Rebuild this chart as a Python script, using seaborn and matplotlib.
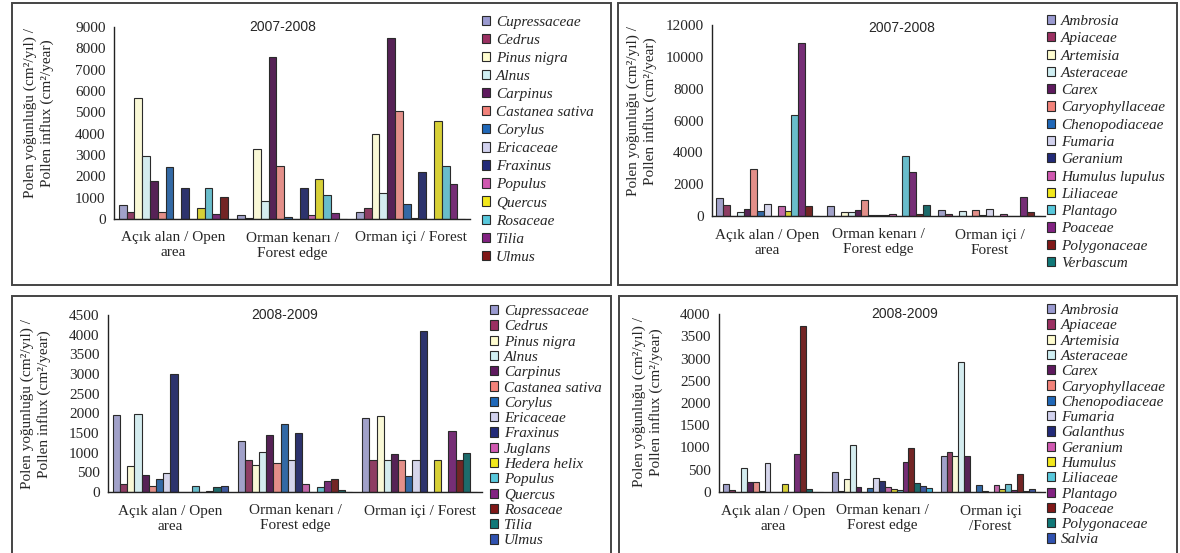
import numpy as np
import pandas as pd
import matplotlib
matplotlib.use("Agg")
import matplotlib.pyplot as plt
from matplotlib.patches import Patch, Rectangle
import seaborn as sns

# site labels (x categories)
sites_tl = ["Açık alan / Open\narea", "Orman kenarı /\nForest edge", "Orman içi / Forest"]
sites_tr = ["Açık alan / Open\narea", "Orman kenarı /\nForest edge", "Orman içi /\nForest"]
sites_bl = ["Açık alan / Open\narea", "Orman kenarı /\nForest edge", "Orman içi / Forest"]
sites_br = ["Açık alan / Open\narea", "Orman kenarı /\nForest edge", "Orman içi\n/Forest"]

# 2007-2008 trees
trees_0708 = ["Cupressaceae", "Cedrus", "Pinus nigra", "Alnus", "Carpinus", "Castanea sativa",
              "Corylus", "Ericaceae", "Fraxinus", "Populus", "Quercus", "Rosaceae", "Tilia", "Ulmus"]
trees_0708_open = [650, 350, 5680, 2930, 1770, 350, 2430, 0, 1450, 0, 520, 1450, 220, 1030]
trees_0708_edge = [170, 50, 3290, 850, 7590, 2490, 100, 0, 1450, 190, 1870, 1130, 270, 0]
trees_0708_forest = [350, 520, 3970, 1220, 8480, 5070, 720, 40, 2180, 0, 4580, 2490, 1630, 0]

# 2007-2008 herbs
herbs_0708 = ["Ambrosia", "Apiaceae", "Artemisia", "Asteraceae", "Carex", "Caryophyllaceae",
              "Chenopodiaceae", "Fumaria", "Geranium", "Humulus lupulus", "Liliaceae", "Plantago",
              "Poaceae", "Polygonaceae", "Verbascum"]
herbs_0708_open = [1130, 720, 0, 240, 460, 2950, 310, 760, 0, 600, 290, 6320, 10900, 600, 0]
herbs_0708_edge = [600, 0, 230, 230, 360, 1000, 40, 40, 40, 120, 0, 3750, 2760, 150, 710]
herbs_0708_forest = [360, 150, 0, 300, 0, 360, 70, 460, 0, 130, 0, 0, 1200, 240, 0]

# 2008-2009 trees
trees_0809 = ["Cupressaceae", "Cedrus", "Pinus nigra", "Alnus", "Carpinus", "Castanea sativa",
              "Corylus", "Ericaceae", "Fraxinus", "Juglans", "Hedera helix", "Populus", "Quercus",
              "Rosaceae", "Tilia", "Ulmus"]
trees_0809_open = [1950, 195, 650, 1980, 425, 150, 320, 490, 2990, 0, 0, 150, 0, 30, 125, 150]
trees_0809_edge = [1300, 820, 690, 1020, 1460, 740, 1720, 820, 1490, 195, 0, 125, 290, 320, 60, 0]
trees_0809_forest = [1890, 820, 1930, 820, 960, 820, 400, 820, 4100, 0, 820, 0, 1560, 820, 1000, 0]

# 2008-2009 herbs (17th series is cut off the legend in the original)
herbs_0809 = ["Ambrosia", "Apiaceae", "Artemisia", "Asteraceae", "Carex", "Caryophyllaceae",
              "Chenopodiaceae", "Fumaria", "Galanthus", "Geranium", "Humulus", "Liliaceae",
              "Plantago", "Poaceae", "Polygonaceae", "Salvia", "Urtica"]
herbs_0809_open = [175, 45, 0, 550, 225, 225, 20, 650, 0, 0, 175, 0, 850, 3730, 75, 0, 0]
herbs_0809_edge = [460, 15, 290, 1050, 110, 0, 80, 320, 250, 110, 75, 45, 680, 1000, 200, 135, 80]
herbs_0809_forest = [820, 900, 820, 2920, 820, 0, 150, 20, 0, 150, 75, 170, 45, 410, 15, 60, 0]

# excel-like colour cycle
colors = ["#9a9ad0", "#9b3062", "#fffdd0", "#d0eff3", "#5e1a5e", "#f2827a", "#2068b8",
          "#d2d2ee", "#222a78", "#d058b0", "#f2e81c", "#58c8dc", "#822282", "#801818",
          "#107878", "#3052b0", "#20c0f0"]

sns.set_style("white")
plt.rcParams["font.family"] = ["Liberation Serif", "DejaVu Serif"]

W, H = 1180, 553
fig = plt.figure(figsize=(W / 100, H / 100), dpi=100)


def px_rect(x0, y0, x1, y1):
    return [x0 / W, 1 - y1 / H, (x1 - x0) / W, (y1 - y0) / H]


def panel(box, title, sites, taxa, vals, ymax, ystep, title_xy, ylab_xy, leg_xy, leg_space, leg_n):
    ax = fig.add_axes(px_rect(*box))
    df = pd.DataFrame({
        "site": np.repeat(sites, len(taxa)),
        "taxon": taxa * 3,
        "value": vals[0] + vals[1] + vals[2],
    })
    pal = colors[:len(taxa)]
    sns.barplot(data=df, x="site", y="value", hue="taxon", order=sites, hue_order=taxa,
                palette=pal, width=0.92, edgecolor="#2a2a2a", linewidth=0.8,
                errorbar=None, legend=False, ax=ax)
    ax.set_xlim(-0.5, 2.5)
    ax.set_ylim(0, ymax)
    ax.set_yticks(np.arange(0, ymax + 1, ystep))
    ax.set_xlabel("")
    ax.set_ylabel("")
    sns.despine(ax=ax)
    for s in ["left", "bottom"]:
        ax.spines[s].set_color("#222222")
        ax.spines[s].set_linewidth(1.0)
    ax.set_xticks([-0.5, 0.5, 1.5, 2.5], minor=True)
    ax.tick_params(axis="x", which="major", length=0, pad=9, labelsize=11)
    ax.tick_params(axis="x", which="minor", length=6, width=1, color="#222222", direction="out")
    ax.tick_params(axis="y", length=4, width=1, color="#222222", labelsize=11, pad=2)
    ax.text(title_xy[0], title_xy[1], title, transform=ax.transAxes, ha="center", va="center",
            family="Liberation Sans", fontsize=10)
    fig.text(ylab_xy[0] / W, 1 - ylab_xy[1] / H,
             "Polen yoğunluğu (cm²/yıl) /\nPollen influx (cm²/year)",
             rotation=90, ha="center", va="center", multialignment="center",
             fontsize=11, linespacing=1.3)
    handles = [Patch(facecolor=c, edgecolor="#2a2a2a", linewidth=0.8) for c in pal[:leg_n]]
    ax.legend(handles, taxa[:leg_n], loc="upper left",
              bbox_to_anchor=(leg_xy[0] / W, 1 - leg_xy[1] / H),
              bbox_transform=fig.transFigure, frameon=False, borderpad=0, borderaxespad=0,
              handlelength=0.55, handleheight=0.55, handletextpad=0.35, labelspacing=leg_space,
              prop={"family": "Liberation Serif", "style": "italic", "size": 11})
    return ax


panel((114, 27, 470, 219), "2007-2008", sites_tl, trees_0708,
      [trees_0708_open, trees_0708_edge, trees_0708_forest], 9000, 1000,
      (0.475, 1.0), (39, 113), (482, 16), 0.33, 14)
panel((712, 25, 1045, 216), "2007-2008", sites_tr, herbs_0708,
      [herbs_0708_open, herbs_0708_edge, herbs_0708_forest], 12000, 2000,
      (0.57, 0.985), (642, 111), (1047, 15), 0.28, 15)
panel((108, 315, 482, 492), "2008-2009", sites_bl, trees_0809,
      [trees_0809_open, trees_0809_edge, trees_0809_forest], 4500, 500,
      (0.473, 1.0), (36, 404), (490, 305), 0.15, 16)
panel((719, 314, 1045, 492), "2008-2009", sites_br, herbs_0809,
      [herbs_0809_open, herbs_0809_edge, herbs_0809_forest], 4000, 500,
      (0.57, 1.0), (648, 402), (1047, 304), 0.15, 16)

# panel frames
for x0, y0, x1, y1 in [(12, 3, 611, 285), (618, 3, 1177, 285), (12, 296, 611, 575), (619, 296, 1177, 575)]:
    fig.add_artist(Rectangle((x0 / W, 1 - y1 / H), (x1 - x0) / W, (y1 - y0) / H,
                             transform=fig.transFigure, fill=False, edgecolor="#444444", linewidth=1.4))

fig.savefig("out.png", dpi=100)
